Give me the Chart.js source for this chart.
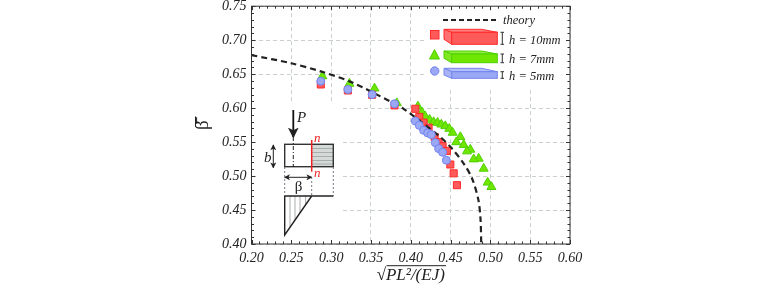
<!DOCTYPE html>
<html>
<head>
<meta charset="utf-8">
<script src="https://cdn.jsdelivr.net/npm/chart.js@4"></script>
<style>
    html, body { margin: 0; background: #fff; }
    #wrap { position: relative; width: 779px; height: 286px; overflow: hidden; }
    #wrap canvas, #wrap svg { position: absolute; left: 0; top: 0; }
    svg text { font-family: "Liberation Serif", serif; font-style: italic; fill: #222; }
</style>
</head>
<body>
<div id="wrap">
    <canvas id="chart" width="779" height="286"></canvas>
    <svg width="779" height="286" viewBox="0 0 779 286">
        <!-- overline of the square root and bar of the y title -->
        <line x1="386.5" y1="265.7" x2="446" y2="265.7" stroke="#222" stroke-width="1"/>
        <line x1="195.5" y1="116.5" x2="195.5" y2="127" stroke="#222" stroke-width="1"/>

        <!-- legend -->
        <line x1="443" y1="20" x2="497" y2="20" stroke="#222" stroke-width="2" stroke-dasharray="5 3"/>
        <text x="503" y="23.5" font-size="12.5">theory</text>

        <rect x="430.5" y="30.5" width="8.5" height="8.5" fill="#ff5a5a" stroke="#ff2a2a"/>
        <polygon points="444,29.3 481.7,29.3 497.3,32.3 451.7,32.3" fill="#ff8080" stroke="#ff2a2a"/>
        <polygon points="444,29.3 451.7,32.3 451.7,44.3 444,39.3" fill="#ff7070" stroke="#ff2a2a"/>
        <rect x="451.7" y="32.3" width="45.6" height="12" fill="#ff5a5a" stroke="#ff2a2a"/>
        <path d="M502.3 32.3V44.3M500.5 32.3H504M500.5 44.3H504" stroke="#333" fill="none"/>
        <text x="509" y="43.5" font-size="12.5">h = 10mm</text>

        <polygon points="429.5,59 439.5,59 434.5,49.5" fill="#6fe600" stroke="#4fd000"/>
        <polygon points="444,51 481.7,51 497.3,54 451.7,54" fill="#90ee40" stroke="#4fd000"/>
        <polygon points="444,51 451.7,54 451.7,62.7 444,58.3" fill="#80e820" stroke="#4fd000"/>
        <rect x="451.7" y="54" width="45.6" height="8.7" fill="#6fe600" stroke="#4fd000"/>
        <path d="M502.3 54V62.7M500.5 54H504M500.5 62.7H504" stroke="#333" fill="none"/>
        <text x="509" y="63" font-size="12.5">h = 7mm</text>

        <circle cx="434.7" cy="71" r="4.2" fill="#9aa8f5" stroke="#7484f0"/>
        <polygon points="444,68.3 481.7,68.3 497.3,71.7 451.7,71.7" fill="#b4bff8" stroke="#7484f0"/>
        <polygon points="444,68.3 451.7,71.7 451.7,78.3 444,75" fill="#a8b4f6" stroke="#7484f0"/>
        <rect x="451.7" y="71.7" width="45.6" height="6.6" fill="#9aa8f5" stroke="#7484f0"/>
        <path d="M502.3 71.7V78.3M500.5 71.7H504M500.5 78.3H504" stroke="#333" fill="none"/>
        <text x="509" y="80" font-size="12.5">h = 5mm</text>

        <!-- section sketch -->
        <defs>
            <marker id="head" viewBox="0 0 8 8" refX="7" refY="4" markerWidth="6" markerHeight="6" orient="auto-start-reverse">
                <path d="M0 0L8 4L0 8L2 4Z" fill="#222"/>
            </marker>
        </defs>
        <rect x="311.7" y="144.3" width="21.6" height="22.4" fill="#d5dad8"/>
        <path d="M311.7 148.5H333.3M311.7 152.5H333.3M311.7 156.5H333.3M311.7 160.5H333.3M311.7 164H333.3" stroke="#9aa3a0" stroke-width="0.8"/>
        <rect x="284.7" y="144.3" width="48.6" height="22.4" fill="none" stroke="#333" stroke-width="1.4"/>
        <line x1="293.3" y1="137" x2="293.3" y2="167" stroke="#222" stroke-dasharray="4 2 1 2"/>
        <line x1="293.3" y1="110" x2="293.3" y2="137" stroke="#111" stroke-width="1.8" marker-end="url(#head)"/>
        <text x="297" y="121.7" font-size="15">P</text>
        <line x1="311.7" y1="140" x2="311.7" y2="171.7" stroke="#f02020" stroke-width="1.5"/>
        <text x="314" y="141.7" font-size="13" style="fill:#f02020">n</text>
        <text x="314" y="177" font-size="13" style="fill:#f02020">n</text>
        <text x="264" y="161.7" font-size="15">b</text>
        <line x1="273.3" y1="145" x2="273.3" y2="167.7" stroke="#222" marker-start="url(#head)" marker-end="url(#head)"/>
        <line x1="284.7" y1="177.3" x2="311.7" y2="177.3" stroke="#222" marker-start="url(#head)" marker-end="url(#head)"/>
        <text x="298.5" y="190.7" font-size="15" text-anchor="middle" style="font-style:normal">β</text>
        <path d="M284.7 167V196M333.3 167V196M311.7 177V196" stroke="#556" stroke-width="0.8" stroke-dasharray="2 2" fill="none"/>
        <path d="M290 196V227M295 196V220M300 196V213M305.6 196V205" stroke="#a8aeac"/>
        <line x1="284.7" y1="196" x2="333.3" y2="196" stroke="#222" stroke-width="1.4"/>
        <path d="M284.7 196V235L311.7 196" stroke="#222" stroke-width="1.4" fill="none"/>
    </svg>
</div>
<script>
// values
const xTickLabels = ['0.20', '0.25', '0.30', '0.35', '0.40', '0.45', '0.50', '0.55', '0.60'];
const yTickLabels = ['0.40', '0.45', '0.50', '0.55', '0.60', '0.65', '0.70', '0.75'];

const theoryX = [0.200, 0.250, 0.287, 0.324, 0.374, 0.391, 0.4346, 0.4518, 0.4665, 0.477, 0.485, 0.4877, 0.4885];
const theoryY = [0.678, 0.666, 0.654, 0.639, 0.610, 0.599, 0.560, 0.5404, 0.5184, 0.4964, 0.4646, 0.435, 0.400];

const h10X = [0.287, 0.321, 0.3515, 0.3796, 0.4057, 0.4107, 0.4161, 0.4224, 0.430, 0.435, 0.440, 0.4455, 0.4497, 0.4539, 0.458];
const h10Y = [0.6348, 0.626, 0.6196, 0.604, 0.599, 0.587, 0.5786, 0.5713, 0.5575, 0.550, 0.544, 0.537, 0.517, 0.504, 0.4866];

const h7X = [0.289, 0.323, 0.3545, 0.3825, 0.409, 0.414, 0.418, 0.4237, 0.4287, 0.4337, 0.4384, 0.4434, 0.4484, 0.4526, 0.4623, 0.4572, 0.4665, 0.4748, 0.4706, 0.4853, 0.479, 0.4916, 0.4966, 0.5013];
const h7Y = [0.647, 0.636, 0.629, 0.6074, 0.6025, 0.594, 0.588, 0.583, 0.5795, 0.5785, 0.576, 0.5736, 0.5697, 0.5639, 0.5575, 0.550, 0.546, 0.539, 0.5365, 0.5257, 0.5247, 0.511, 0.4905, 0.484];

const h5X = [0.287, 0.321, 0.3515, 0.3796, 0.4057, 0.4107, 0.4161, 0.4212, 0.4258, 0.4308, 0.435, 0.440, 0.4447];
const h5Y = [0.6397, 0.6274, 0.620, 0.6064, 0.581, 0.5746, 0.5673, 0.5634, 0.561, 0.5492, 0.5404, 0.535, 0.5233];

const toPoints = (xs, ys) => xs.map((x, i) => ({ x: x, y: ys[i] }));

// frame, inward ticks on all four sides, white boxes behind sketch and legend
const framePlugin = {
    id: 'frame',
    beforeDatasetsDraw(chart) {
        const c = chart.ctx;
        c.save();
        c.fillStyle = '#fff';
        c.fillRect(252, 103, 88, 140);
        c.fillRect(425, 6.5, 143.5, 81.5);
        c.restore();
    },
    afterDraw(chart) {
        const c = chart.ctx, a = chart.chartArea;
        const sx = chart.scales.x, sy = chart.scales.y;
        c.save();
        c.strokeStyle = '#333';
        c.lineWidth = 1;
        c.strokeRect(a.left, a.top, a.right - a.left, a.bottom - a.top);
        c.beginPath();
        for (let i = 0; i <= 40; i++) {
            const p = Math.round(sx.getPixelForValue(0.2 + i * 0.01)) + 0.5;
            const len = i % 5 === 0 ? 4 : 2.5;
            c.moveTo(p, a.bottom); c.lineTo(p, a.bottom - len);
            c.moveTo(p, a.top); c.lineTo(p, a.top + len);
        }
        for (let i = 0; i <= 35; i++) {
            const p = Math.round(sy.getPixelForValue(0.4 + i * 0.01)) + 0.5;
            const len = i % 5 === 0 ? 4 : 2.5;
            c.moveTo(a.left, p); c.lineTo(a.left + len, p);
            c.moveTo(a.right, p); c.lineTo(a.right - len, p);
        }
        c.stroke();
        c.restore();
    }
};

const tickFont = { family: '"Liberation Serif", serif', style: 'italic', size: 14 };
const gridStyle = { color: '#c9d0cd', lineWidth: 1, drawTicks: false };

new Chart(document.getElementById('chart').getContext('2d'), {
    type: 'scatter',
    data: {
        datasets: [
            {
                label: 'h = 7mm', data: toPoints(h7X, h7Y), order: 4,
                pointStyle: 'triangle', pointRadius: 5.2,
                backgroundColor: '#6fe600', borderColor: '#4fd000', borderWidth: 1
            },
            {
                label: 'h = 10mm', data: toPoints(h10X, h10Y), order: 3,
                pointStyle: 'rect', pointRadius: 5,
                backgroundColor: '#ff5a5a', borderColor: '#ff2a2a', borderWidth: 1
            },
            {
                label: 'theory', data: toPoints(theoryX, theoryY), order: 2,
                showLine: true, pointRadius: 0, tension: 0.3,
                borderColor: '#222', borderWidth: 2.2, borderDash: [6, 4]
            },
            {
                label: 'h = 5mm', data: toPoints(h5X, h5Y), order: 1,
                pointStyle: 'circle', pointRadius: 4,
                backgroundColor: '#9aa8f5', borderColor: '#7484f0', borderWidth: 1
            }
        ]
    },
    options: {
        responsive: false,
        animation: false,
        layout: { padding: { left: 192, right: 209, top: 5.5, bottom: 0 } },
        plugins: { legend: { display: false }, tooltip: { enabled: false } },
        scales: {
            x: {
                type: 'linear', min: 0.2, max: 0.6,
                afterBuildTicks: axis => { axis.ticks = xTickLabels.map(v => ({ value: Number(v) })); },
                afterFit: axis => { axis.height = 42; axis.paddingLeft = 0; axis.paddingRight = 0; },
                ticks: { color: '#222', font: tickFont, padding: 6, maxRotation: 0, callback: v => v.toFixed(2) },
                grid: gridStyle,
                border: { display: false, dash: [4, 3] },
                title: { display: true, text: '√PL²/(EJ)', color: '#222', padding: 0, font: { family: '"Liberation Serif", serif', style: 'italic', size: 17 } }
            },
            y: {
                type: 'linear', min: 0.4, max: 0.75,
                afterBuildTicks: axis => { axis.ticks = yTickLabels.map(v => ({ value: Number(v) })); },
                afterFit: axis => { axis.width = 59.5; axis.paddingTop = 0; axis.paddingBottom = 0; },
                ticks: { color: '#222', font: tickFont, padding: 5, callback: v => v.toFixed(2) },
                grid: gridStyle,
                border: { display: false, dash: [4, 3] },
                title: { display: true, text: 'β̄', color: '#222', padding: 0, font: { family: '"Liberation Serif", serif', size: 19 } }
            }
        }
    },
    plugins: [framePlugin]
});
</script>
</body>
</html>
